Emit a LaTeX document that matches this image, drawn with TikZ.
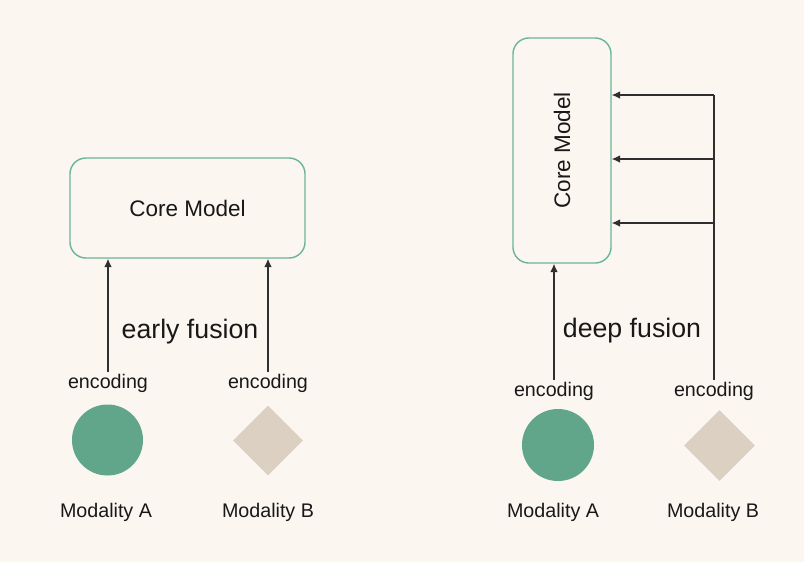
\documentclass[tikz,border=0pt]{standalone}
\usepackage{fontspec}
\setmainfont{Liberation Sans}
\usetikzlibrary{shapes.geometric, arrows.meta, positioning}

\definecolor{paper}{RGB}{252,246,241}
\definecolor{boxgreen}{RGB}{108,180,150}
\definecolor{modgreen}{RGB}{97,166,139}
\definecolor{modsand}{RGB}{220,208,194}
\definecolor{ink}{RGB}{24,24,24}

\begin{document}
\begin{tikzpicture}[x=0.025cm, y=-0.025cm,
  core/.style={draw=boxgreen, line width=1pt, rounded corners=0.4cm, fill=paper, text=ink},
  enc/.style={text=ink, font=\fontsize{14}{16}\selectfont, inner sep=1pt},
  modname/.style={text=ink, font=\fontsize{14}{16}\selectfont},
  fusion/.style={text=ink, font=\fontsize{19}{22}\selectfont},
  feed/.style={draw=ink!90, line width=0.85pt, -{Latex[length=6pt,width=5.5pt]}}]
\fill[paper] (0,0) rectangle (804,562);
\useasboundingbox (0,0) rectangle (804,562);

% early fusion
\node[core, minimum width=5.875cm, minimum height=2.5cm,
  font=\fontsize{16}{18}\selectfont] (coreL) at (187.5,208) {Core Model};
\node[fusion] (early) at (190,332) {early fusion};
\node[enc] (encLA) at (108,383) {encoding};
\node[enc] (encLB) at (268,383) {encoding};
\node[circle, fill=modgreen, minimum size=1.775cm, inner sep=0pt] (modLA) at (107.5,440) {};
\node[diamond, aspect=1, fill=modsand, minimum size=1.75cm, inner sep=0pt] (modLB) at (268,440.5) {};
\node[modname] (nameLA) at (106,512) {Modality A};
\node[modname] (nameLB) at (268,512) {Modality B};
\draw[feed] (encLA.north) -- (coreL.south -| encLA);
\draw[feed] (encLB.north) -- (coreL.south -| encLB);

% deep fusion
\node[core, minimum width=2.45cm, minimum height=5.625cm] (coreR) at (562,150.5) {};
\node[rotate=90, text=ink, font=\fontsize{16}{18}\selectfont] (coreRtxt) at (coreR) {Core Model};
\node[fusion] (deep) at (632,331) {deep fusion};
\node[enc] (encRA) at (554,391) {encoding};
\node[enc] (encRB) at (714,391) {encoding};
\node[circle, fill=modgreen, minimum size=1.8cm, inner sep=0pt] (modRA) at (558,445) {};
\node[diamond, aspect=1, fill=modsand, minimum size=1.775cm, inner sep=0pt] (modRB) at (719.5,445.5) {};
\node[modname] (nameRA) at (553,512) {Modality A};
\node[modname] (nameRB) at (713,512) {Modality B};
\coordinate (tapA) at (714,95);
\coordinate (tapB) at (714,159);
\coordinate (tapC) at (714,223);
\draw[feed] (encRA.north) -- (coreR.south -| encRA);
\draw[draw=ink!90, line width=0.85pt] (encRB.north) -- (tapA);
\foreach \t in {tapA,tapB,tapC}
  \draw[feed] (\t) -- (coreR.east |- \t);
\end{tikzpicture}
\end{document}
